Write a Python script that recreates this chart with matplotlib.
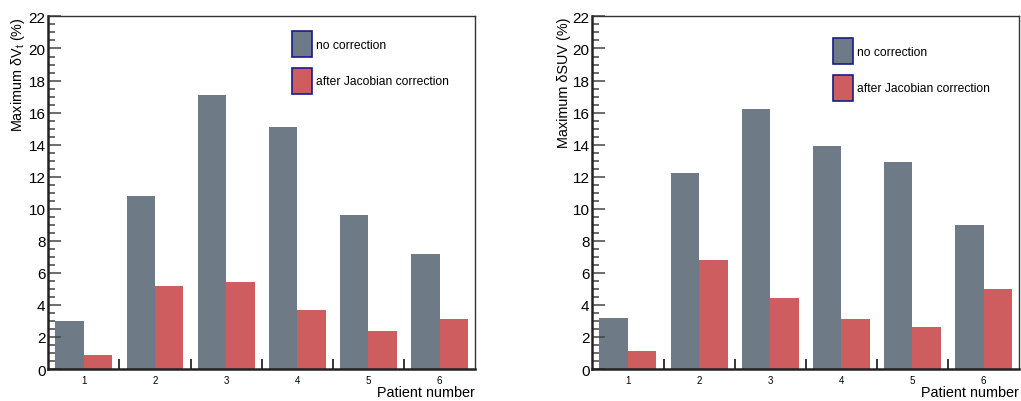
import matplotlib
matplotlib.use('Agg')
import numpy as np
import matplotlib.pyplot as plt
from matplotlib.patches import Patch
from matplotlib.ticker import MultipleLocator, FixedLocator, NullFormatter

plt.rcParams['font.family'] = ['Liberation Sans', 'DejaVu Sans']
plt.rcParams['mathtext.fontset'] = 'custom'
plt.rcParams['mathtext.rm'] = 'Liberation Sans'
plt.rcParams['mathtext.it'] = 'Liberation Sans'

patients = [1, 2, 3, 4, 5, 6]
dv_nocorr = [3.0, 10.8, 17.1, 15.1, 9.6, 7.2]
dv_jacob = [0.9, 5.2, 5.4, 3.7, 2.4, 3.1]
suv_nocorr = [3.2, 12.2, 16.2, 13.9, 12.9, 9.0]
suv_jacob = [1.1, 6.8, 4.4, 3.1, 2.6, 5.0]
labels = ['no correction', 'after Jacobian correction']
ylabels = [r'Maximum δV$_{\rm t}$ (%)', 'Maximum δSUV (%)']

grey = '#6e7a85'
red = '#cd5d5f'

fig = plt.figure(figsize=(10.21, 4.02), dpi=100)
ax1 = fig.add_axes([0.0473, 0.0796, 0.418, 0.877])
ax2 = fig.add_axes([0.5802, 0.0796, 0.418, 0.877])

legend_pos = [(0.571, 0.958), (0.564, 0.938)]

for ax, a, b, yl, lp in zip([ax1, ax2], [dv_nocorr, suv_nocorr], [dv_jacob, suv_jacob], ylabels, legend_pos):
    x = np.array(patients)
    ax.bar(x - 0.2, a, width=0.4, color=grey, linewidth=0)
    ax.bar(x + 0.2, b, width=0.4, color=red, linewidth=0)
    ax.set_xlim(0.5, 6.5)
    ax.set_ylim(0, 22)

    ax.yaxis.set_major_locator(MultipleLocator(2))
    ax.yaxis.set_minor_locator(MultipleLocator(0.5))
    ax.tick_params(axis='y', which='major', direction='in', length=9.5, width=1.1,
                   color='#444444', labelsize=11, pad=2)
    ax.tick_params(axis='y', which='minor', direction='in', length=5, width=1.1, color='#444444')

    ax.xaxis.set_major_locator(FixedLocator([1.5, 2.5, 3.5, 4.5, 5.5]))
    ax.xaxis.set_major_formatter(NullFormatter())
    ax.set_xticks(patients, [str(p) for p in patients], minor=True)
    ax.tick_params(axis='x', which='major', direction='in', length=7, width=1.1, color='black')
    ax.tick_params(axis='x', which='minor', length=0, labelsize=7, pad=4)

    for s in ['left', 'bottom']:
        ax.spines[s].set_linewidth(1.8)
        ax.spines[s].set_color('#222222')
    for s in ['top', 'right']:
        ax.spines[s].set_linewidth(1.0)
        ax.spines[s].set_color('#333333')

    ax.set_xlabel('Patient number', fontsize=10.4, ha='right', x=1.0, labelpad=0)
    ax.set_ylabel(yl, fontsize=10.4, ha='right', y=1.0, labelpad=1)

    handles = [Patch(facecolor=grey, edgecolor='#1a1a8c', linewidth=1.2),
               Patch(facecolor=red, edgecolor='#1a1a8c', linewidth=1.2)]
    ax.legend(handles, labels, loc='upper left', bbox_to_anchor=lp, frameon=False,
              fontsize=8.7, handlelength=1.65, handleheight=2.9, labelspacing=0.9,
              handletextpad=0.3, borderpad=0, borderaxespad=0)

fig.savefig('out.png', dpi=100)
